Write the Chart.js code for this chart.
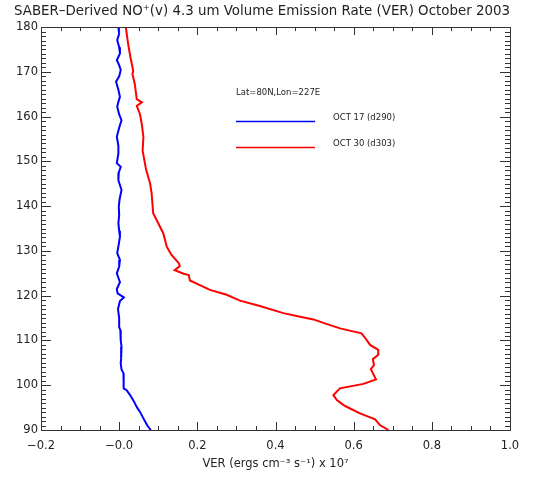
<!DOCTYPE html>
<html>
<head>
<meta charset="utf-8">
<script src="https://cdn.jsdelivr.net/npm/chart.js@4/dist/chart.umd.min.js"></script>
<style>
  html, body { margin: 0; padding: 0; background: #fff; }
  #wrap { width: 541px; height: 479px; }
</style>
</head>
<body>
<div id="wrap"><canvas id="myChart" width="541" height="479"></canvas></div>
<script>
// altitude (km) and VER (x 10^7 ergs cm-3 s-1)
const oct17Alt = [180, 178.5, 177.1, 175.5, 174.1, 172.6, 171.5, 170.4, 169, 167.8, 166, 164.4, 163.3, 162.2, 160.5, 159.2, 157.5, 155.5, 153.5, 151.8, 149.6, 148.8, 147.5, 145.8, 143.6, 141.5, 139.9, 138, 136.2, 134.5, 133.2, 131.5, 129.5, 128, 126.5, 125, 124, 123, 121.5, 120.5, 119.6, 118.8, 117, 115, 113, 112.3, 110, 108.6, 106, 104.9, 103.5, 102.7, 101, 99.3, 98.9, 97.8, 96.5, 95, 94.1, 92.6, 91, 90];
const oct17VER = [-0.002, 0.0, -0.005, 0.0, 0.002, -0.006, 0.0, 0.004, 0.0, -0.008, -0.002, 0.002, -0.002, -0.005, 0.0, 0.006, 0.0, -0.006, -0.002, -0.002, -0.006, 0.004, -0.001, -0.002, 0.006, 0.001, -0.001, 0.0, -0.002, 0.0, 0.002, -0.001, -0.005, 0.002, 0.0, -0.006, -0.002, 0.002, -0.006, -0.004, 0.012, 0.002, -0.003, 0.0, 0.0, 0.003, 0.004, 0.006, 0.005, 0.004, 0.006, 0.011, 0.011, 0.012, 0.019, 0.028, 0.037, 0.046, 0.053, 0.062, 0.072, 0.081];

const oct30Alt = [180, 176.2, 173.2, 170.2, 169.5, 167.3, 163.9, 163.2, 162.4, 160.6, 158.3, 155.4, 152.4, 148.1, 145.1, 142.9, 138.4, 136.2, 133.9, 130.9, 129.1, 127.2, 126.6, 125.7, 124.9, 124.6, 123.4, 122.4, 121.3, 120.2, 118.9, 117.7, 116.1, 115.3, 114.7, 113.7, 112.7, 111.6, 110.5, 109, 107.9, 106.8, 105.8, 104.5, 103.6, 101.3, 100.3, 99.3, 97.8, 96.7, 95.5, 94.8, 93.7, 92.4, 91.1, 90];
const oct30VER = [0.017, 0.023, 0.029, 0.036, 0.034, 0.040, 0.045, 0.058, 0.045, 0.053, 0.058, 0.062, 0.060, 0.069, 0.079, 0.083, 0.087, 0.100, 0.113, 0.122, 0.134, 0.153, 0.155, 0.142, 0.165, 0.178, 0.181, 0.205, 0.232, 0.275, 0.309, 0.360, 0.420, 0.463, 0.497, 0.530, 0.565, 0.620, 0.630, 0.642, 0.663, 0.663, 0.649, 0.652, 0.644, 0.657, 0.625, 0.565, 0.548, 0.557, 0.575, 0.591, 0.616, 0.655, 0.667, 0.689];

const seriesNames = ["OCT 17 (d290)", "OCT 30 (d303)"];
const seriesColors = ["#0000ff", "#ff0000"];
const locationNote = "Lat=80N,Lon=227E";

const xMin = -0.2, xMax = 1.0, xMajor = 0.2, xMinor = 0.05;
const yMin = 90, yMax = 180, yMajor = 10, yMinor = 1;

const axisColor = "#333";
const textColor = "#222";
const fontFamily = "'DejaVu Sans', sans-serif";

function toPoints(alt, ver) {
  return alt.map((a, i) => ({ x: ver[i], y: a }));
}

// inward ticks on all four sides + frame, like the IDL plot
const frameTicks = {
  id: "frameTicks",
  afterDatasetsDraw(chart) {
    const { ctx, chartArea: a, scales: { x, y } } = chart;
    ctx.save();
    ctx.strokeStyle = axisColor;
    ctx.lineWidth = 1;
    ctx.beginPath();
    const n = Math.round((xMax - xMin) / xMinor);
    for (let i = 0; i <= n; i++) {
      const v = xMin + i * xMinor;
      const px = Math.round(x.getPixelForValue(v)) + 0.5;
      const len = (i % Math.round(xMajor / xMinor) === 0) ? 8 : 4;
      ctx.moveTo(px, a.bottom); ctx.lineTo(px, a.bottom - len);
      ctx.moveTo(px, a.top); ctx.lineTo(px, a.top + len);
    }
    const m = Math.round((yMax - yMin) / yMinor);
    for (let i = 0; i <= m; i++) {
      const v = yMin + i * yMinor;
      const py = Math.round(y.getPixelForValue(v)) + 0.5;
      const len = (i % Math.round(yMajor / yMinor) === 0) ? 10 : 5;
      ctx.moveTo(a.left, py); ctx.lineTo(a.left + len, py);
      ctx.moveTo(a.right, py); ctx.lineTo(a.right - len, py);
    }
    ctx.stroke();
    ctx.strokeRect(Math.round(a.left) + 0.5, Math.round(a.top) + 0.5,
                   Math.round(a.right - a.left), Math.round(a.bottom - a.top));
    ctx.restore();
  }
};

// the little legend block inside the plot
const innerLegend = {
  id: "innerLegend",
  afterDraw(chart) {
    const { ctx, chartArea: a } = chart;
    const x0 = Math.round(a.left + 195);
    const top = Math.round(a.top);
    ctx.save();
    ctx.font = "8.5px " + fontFamily;
    ctx.textBaseline = "middle";
    ctx.fillStyle = textColor;
    ctx.fillText(locationNote, x0, top + 66);
    [top + 94, top + 120].forEach((ly, i) => {
      ctx.beginPath();
      ctx.strokeStyle = seriesColors[i];
      ctx.lineWidth = 1.3;
      ctx.moveTo(x0, ly + 0.5);
      ctx.lineTo(x0 + 79, ly + 0.5);
      ctx.stroke();
      ctx.fillStyle = textColor;
      ctx.fillText(seriesNames[i], x0 + 97, ly - 3);
    });
    ctx.restore();
  }
};

const ctx = document.getElementById("myChart");

const myChart = new Chart(ctx, {
  type: "scatter",
  data: {
    datasets: [
      {
        label: seriesNames[0],
        data: toPoints(oct17Alt, oct17VER),
        showLine: true,
        borderColor: seriesColors[0],
        borderWidth: 2,
        pointRadius: 0,
        tension: 0
      },
      {
        label: seriesNames[1],
        data: toPoints(oct30Alt, oct30VER),
        showLine: true,
        borderColor: seriesColors[1],
        borderWidth: 2,
        pointRadius: 0,
        tension: 0
      }
    ]
  },
  options: {
    responsive: false,
    animation: false,
    layout: { padding: { left: 14, right: 31, top: 0, bottom: 0 } },
    plugins: {
      legend: { display: false },
      tooltip: { enabled: false },
      title: {
        display: true,
        text: "SABER\u2013Derived NO\u207A(v) 4.3 um Volume Emission Rate (VER) October 2003",
        color: textColor,
        font: { family: fontFamily, size: 13.4, weight: "normal" },
        padding: { top: 3, bottom: 8 }
      }
    },
    scales: {
      x: {
        type: "linear",
        min: xMin,
        max: xMax,
        grid: { display: false, drawTicks: false },
        border: { display: false },
        ticks: {
          stepSize: xMajor,
          padding: 9,
          color: textColor,
          font: { family: fontFamily, size: 11.5 },
          maxRotation: 0,
          callback: v => (v < 0 ? "\u2212" + Math.abs(v).toFixed(1) : v.toFixed(1))
        },
        title: {
          display: true,
          text: "VER (ergs cm\u207B\u00B3 s\u207B\u00B9) x 10\u2077",
          color: textColor,
          font: { family: fontFamily, size: 11.5 },
          padding: { top: 0, bottom: 8 }
        },
        afterFit: s => { s.height = 49; }
      },
      y: {
        type: "linear",
        min: yMin,
        max: yMax,
        grid: { display: false, drawTicks: false },
        border: { display: false },
        ticks: {
          stepSize: yMajor,
          padding: 3,
          color: textColor,
          font: { family: fontFamily, size: 11.5 }
        },
        afterFit: s => { s.width = 27; }
      }
    }
  },
  plugins: [frameTicks, innerLegend]
});
</script>
</body>
</html>
